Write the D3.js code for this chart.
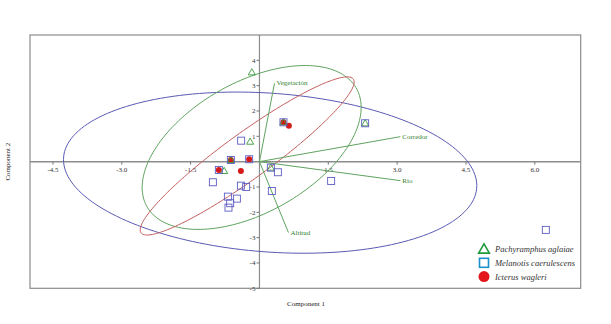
<!DOCTYPE html>
<html>
<head>
<meta charset="utf-8">
<script src="https://cdn.jsdelivr.net/npm/d3@7"></script>
<style>
  body { margin: 0; background: #fff; }
  svg text { font-family: "Liberation Serif", "DejaVu Serif", serif; }
</style>
</head>
<body>
<div id="chart"></div>
<script>
// scores (Component 1, Component 2) per species
const pachyramphus = [
  [-0.166, 3.527], [-0.203, 0.789], [-0.623, 0.067], [-0.769, -0.367],
  [0.248, -0.237], [0.523, 1.554], [2.303, 1.515]
];
const melanotis = [
  [0.523, 1.554], [-0.399, 0.828], [-0.623, 0.067], [-0.224, 0.095],
  [-0.885, -0.327], [0.248, -0.237], [0.401, -0.418], [-1.015, -0.813],
  [-0.405, -0.947], [-0.290, -0.998], [0.270, -1.156], [-0.688, -1.381],
  [-0.492, -1.460], [-0.638, -1.641], [-0.675, -1.815], [1.562, -0.761],
  [2.303, 1.515], [6.240, -2.694]
];
const icterus = [
  [0.641, 1.420], [0.523, 1.554], [-0.623, 0.067], [-0.224, 0.095],
  [-0.885, -0.327], [-0.405, -0.367]
];

// 95% ellipses: centre, two conjugate half-diameters (data units)
const ellipseMelanotis = { c: [0.233, -0.434], u: [4.503, -0.513], v: [0, 3.14] };
const ellipsePachyramphus = { c: [-0.170, 0.560], u: [2.386, 1.578], v: [0, 2.824] };
const ellipseIcterus = { c: [-0.268, 0.225], u: [2.331, 2.919], v: [0, 1.105] };

// environmental loadings
const loadingNames = ['Vegetación', 'Corredor', 'Rio', 'Altitud'];
const loadingValues = [[0.327, 3.09], [3.07, 0.986], [3.07, -0.75], [0.632, -2.80]];

const xTicks = [-4.5, -3.0, -1.5, 1.5, 3.0, 4.5, 6.0];
const yTicks = [-5, -4, -3, -2, -1, 1, 2, 3, 4];
const legendNames = ['Pachyramphus aglaiae', 'Melanotis caerulescens', 'Icterus wagleri'];

const width = 611, height = 324;
const margin = { top: 35, right: 30.3, bottom: 35.7, left: 30 };

const svg = d3.select('#chart').append('svg')
  .attr('width', width)
  .attr('height', height);

const x = d3.scaleLinear().domain([-5, 7]).range([margin.left, width - margin.right]);
const y = d3.scaleLinear().domain([-5, 5]).range([height - margin.bottom, margin.top]);

// frame
svg.append('rect')
  .attr('x', x(-5)).attr('y', y(5))
  .attr('width', x(7) - x(-5)).attr('height', y(-5) - y(5))
  .attr('fill', 'none').attr('stroke', '#8c8c8c').attr('stroke-width', 1.2);

// zero axes
svg.append('line')
  .attr('x1', x(-5)).attr('x2', x(7)).attr('y1', y(0)).attr('y2', y(0))
  .attr('stroke', '#8c8c8c').attr('stroke-width', 1.5);
svg.append('line')
  .attr('x1', x(0)).attr('x2', x(0)).attr('y1', y(5)).attr('y2', y(-5))
  .attr('stroke', '#8c8c8c').attr('stroke-width', 1.2);

// tick marks + labels
const xt = svg.append('g').selectAll('g').data(xTicks).join('g')
  .attr('transform', d => `translate(${x(d)},${y(0)})`);
xt.append('line').attr('y1', 0).attr('y2', 3).attr('stroke', '#777');
xt.append('text').attr('y', 10).attr('text-anchor', 'middle')
  .attr('font-size', 7).attr('fill', '#333').text(d => d.toFixed(1));

const yt = svg.append('g').selectAll('g').data(yTicks).join('g')
  .attr('transform', d => `translate(${x(0)},${y(d)})`);
yt.append('line').attr('x1', 0).attr('x2', -3).attr('stroke', '#777');
yt.append('text').attr('x', -4).attr('dy', '0.35em').attr('text-anchor', 'end')
  .attr('font-size', 7).attr('fill', '#333').text(d => d);

// axis titles
svg.append('text').attr('x', 306).attr('y', 306).attr('text-anchor', 'middle')
  .attr('font-size', 7).attr('fill', '#222').text('Component 1');
svg.append('text').attr('transform', `translate(10,${y(0)}) rotate(-90)`)
  .attr('text-anchor', 'middle').attr('font-size', 7).attr('fill', '#222')
  .text('Component 2');

// ellipses
const line = d3.line().x(d => x(d[0])).y(d => y(d[1])).curve(d3.curveLinearClosed);
const angles = d3.range(0, 2 * Math.PI, Math.PI / 90);
function ellipsePoints(e) {
  return angles.map(t => [
    e.c[0] + e.u[0] * Math.cos(t) + e.v[0] * Math.sin(t),
    e.c[1] + e.u[1] * Math.cos(t) + e.v[1] * Math.sin(t)
  ]);
}
[[ellipseMelanotis, '#5a5ab4'], [ellipsePachyramphus, '#5fa35f'], [ellipseIcterus, '#c45f5f']]
  .forEach(([e, col]) => {
    svg.append('path').attr('d', line(ellipsePoints(e)))
      .attr('fill', 'none').attr('stroke', col).attr('stroke-width', 1);
  });

// loadings
const load = svg.append('g').selectAll('g').data(loadingValues).join('g');
load.append('line')
  .attr('x1', x(0)).attr('y1', y(0))
  .attr('x2', d => x(d[0])).attr('y2', d => y(d[1]))
  .attr('stroke', '#5fa35f').attr('stroke-width', 1);
load.append('text')
  .attr('x', d => x(d[0]) + 2).attr('y', d => y(d[1]) + 2)
  .attr('font-size', 7).attr('fill', '#2f7f2f')
  .text((d, i) => loadingNames[i]);

// points
const triangle = d3.symbol().type(d3.symbolTriangle).size(22);
svg.append('g').selectAll('circle').data(icterus).join('circle')
  .attr('cx', d => x(d[0])).attr('cy', d => y(d[1])).attr('r', 3)
  .attr('fill', '#d41a1a');
svg.append('g').selectAll('path').data(pachyramphus).join('path')
  .attr('d', triangle)
  .attr('transform', d => `translate(${x(d[0])},${y(d[1]) + 0.5})`)
  .attr('fill', 'none').attr('stroke', '#3c9a3c').attr('stroke-width', 0.9);
svg.append('g').selectAll('rect').data(melanotis).join('rect')
  .attr('x', d => x(d[0]) - 3.5).attr('y', d => y(d[1]) - 3.5)
  .attr('width', 7).attr('height', 7)
  .attr('fill', 'none').attr('stroke', '#5c5cc4').attr('stroke-width', 0.9);

// legend
const legend = svg.append('g').attr('transform', 'translate(484,249)');
const li = legend.selectAll('g').data(legendNames).join('g')
  .attr('transform', (d, i) => `translate(0,${i * 13.8})`);
li.filter((d, i) => i === 0).append('path')
  .attr('d', d3.symbol().type(d3.symbolTriangle).size(50))
  .attr('transform', 'translate(0,1)')
  .attr('fill', 'none').attr('stroke', '#1f9a3a').attr('stroke-width', 1.6);
li.filter((d, i) => i === 1).append('rect')
  .attr('x', -4.5).attr('y', -4.5).attr('width', 9).attr('height', 9)
  .attr('fill', 'none').attr('stroke', '#1d8fc9').attr('stroke-width', 1.6);
li.filter((d, i) => i === 2).append('circle')
  .attr('r', 5.5).attr('fill', '#e3161e');
li.append('text').attr('x', 11).attr('dy', '0.35em')
  .attr('font-size', 8.5).attr('font-style', 'italic').attr('fill', '#333')
  .text(d => d);
</script>
</body>
</html>
